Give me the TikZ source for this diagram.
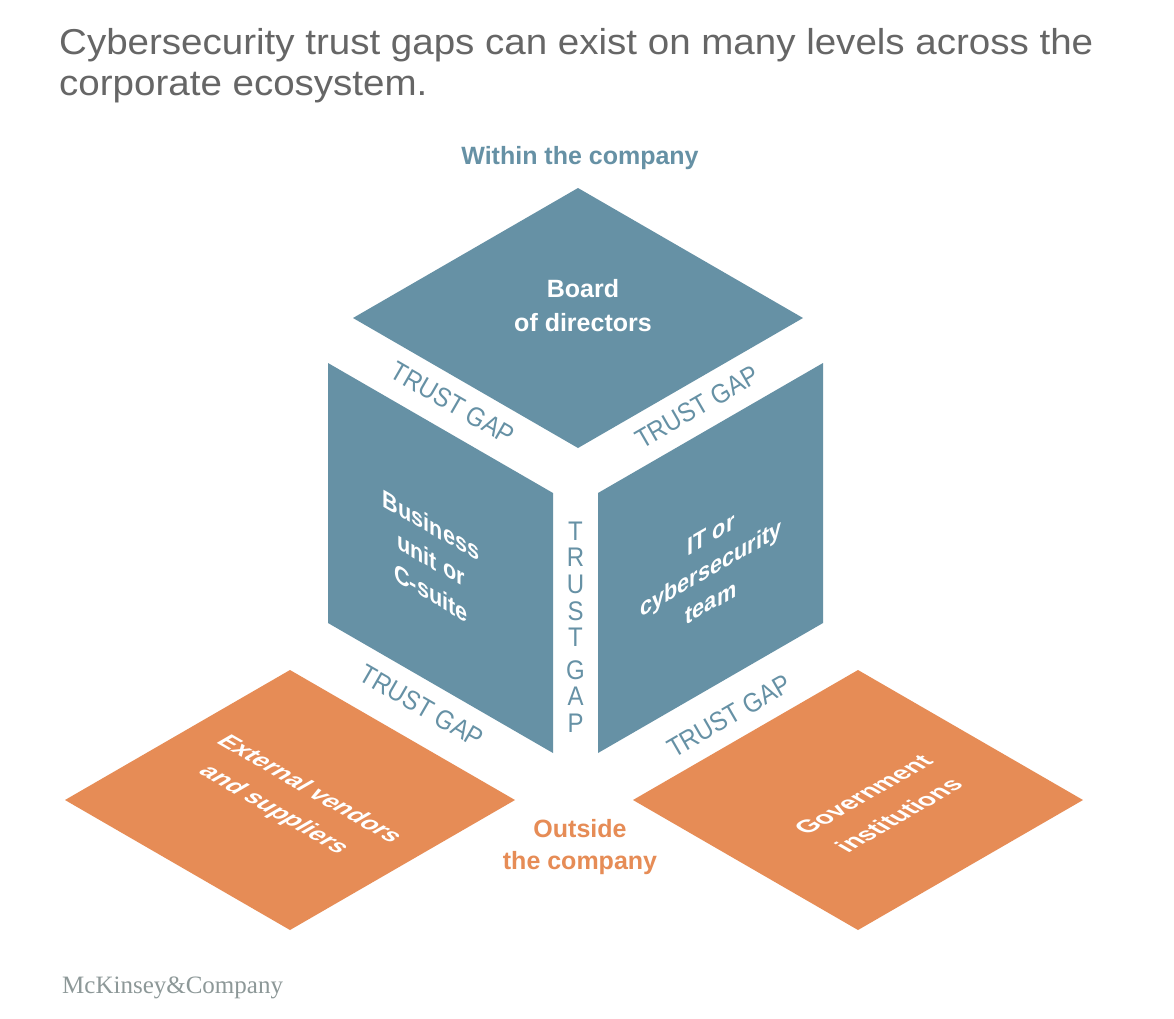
\documentclass[tikz,border=0pt]{standalone}
\usepackage{fontspec}
\setmainfont{Liberation Sans}
\newfontfamily\logofont{Liberation Serif}
\definecolor{azul}{HTML}{6691A5}
\definecolor{naranja}{HTML}{E68C56}
\definecolor{gristexto}{HTML}{666666}
\definecolor{grislogo}{HTML}{8D9898}

\begin{document}
\begin{tikzpicture}[x=1pt, y=-1pt,
        cara/.style={fill=azul},
        base/.style={fill=naranja},
        rotulo/.style={text=white, inner sep=0pt, align=center, font=\fontsize{25}{34}\selectfont\bfseries},
        plano/.style={rotulo, font=\fontsize{25}{41}\selectfont\bfseries},
        brecha/.style={text=azul, inner sep=0pt, yscale=1.12, font=\fontsize{24}{23.8}\selectfont},
        zona/.style={inner sep=0pt, align=center, font=\fontsize{25}{32}\selectfont\bfseries}]
    \useasboundingbox (0,0) rectangle (1174,1018);
    \fill[white] (0,0) rectangle (1174,1018);
    \node[anchor=north west, align=left, inner sep=0pt, xscale=1.07, text=gristexto, font=\fontsize{36}{41}\selectfont] (titulo) at (59,28) {Cybersecurity trust gaps can exist on many levels across the\\corporate ecosystem.};
    \fill[cara] (353,318) -- (578,188) -- (803,318) -- (578,448) -- cycle;
    \fill[cara] (328,363) -- (553,493) -- (553,753) -- (328,623) -- cycle;
    \fill[cara] (598,493) -- (823,363) -- (823,623) -- (598,753) -- cycle;
    \fill[base] (65,800) -- (290,670) -- (515,800) -- (290,930) -- cycle;
    \fill[base] (633,800) -- (858,670) -- (1083,800) -- (858,930) -- cycle;
    \node[zona, text=azul] (dentro) at (580,158) {Within the company};
    \node[zona, text=naranja] (fuera) at (580,847) {Outside\\the company};
    \node[rotulo] (junta) at (583,306) {Board\\of directors};
    \node[rotulo, cm={0.866,-0.5,0,1,(0,0)}] (negocio) at (431,559) {Business\\unit or\\C-suite};
    \node[rotulo, cm={0.866,0.5,0,1,(0,0)}] (ti) at (711,568) {IT or\\cybersecurity\\team};
    \node[plano, cm={0.866,-0.5,0.866,0.5,(0,0)}] (proveedores) at (291,800) {External vendors\\and suppliers};
    \node[plano, cm={0.866,0.5,-0.866,0.5,(0,0)}] (gobierno) at (881,805) {Government\\institutions};
    \node[rotate=-30, brecha] (g1) at (453,403) {TRUST GAP};
    \node[rotate=30, brecha] (g2) at (697,407) {TRUST GAP};
    \node[brecha, align=center] (g3) at (575.5,627) {T\\R\\U\\S\\T\\[5pt]G\\A\\P};
    \node[rotate=-30, brecha] (g4) at (422,706) {TRUST GAP};
    \node[rotate=30, brecha] (g5) at (729,716) {TRUST GAP};
    \node[anchor=base west, inner sep=0pt, text=grislogo, font=\logofont\fontsize{25}{30}\selectfont] (logo) at (62,993) {McKinsey\&Company};
\end{tikzpicture}
\end{document}
